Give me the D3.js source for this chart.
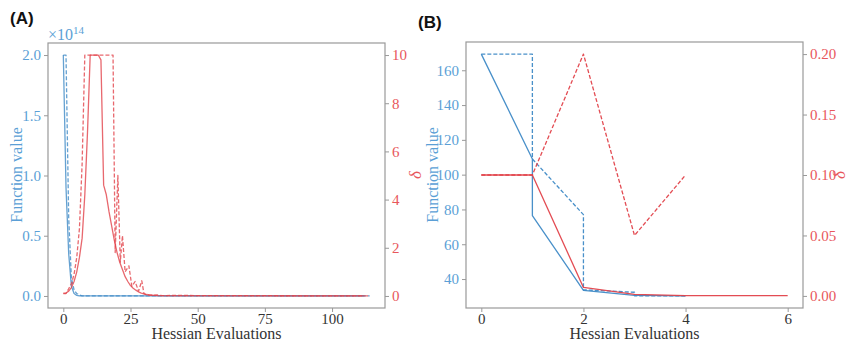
<!DOCTYPE html>
<html><head><meta charset="utf-8">
<script src="https://cdn.jsdelivr.net/npm/d3@7/dist/d3.min.js"></script>
<style>
body{margin:0;background:#fff;}
svg{display:block;}
</style></head>
<body><svg id="c" width="859" height="344"></svg>
<script>
// ---------- Panel A data (x = Hessian evaluations) ----------
const aBlueSolidX = [0,1,2,3,4,5,6,112];
const aBlueSolidY = [2.0,0.9,0.35,0.08,0.02,0.005,0,0];           // ×1e14
const aBlueDashX  = [0,1,2,3,4,5,6,7,114];
const aBlueDashY  = [2.0,2.0,0.65,0.15,0.05,0.02,0.008,0,0];     // ×1e14
const aRedSolidX  = [0,1,2,3,4,5,6,7,8,9,10,11,12,13,14,15,16,17,18,19,20,21,22,23,24,25,26,27,28,29,30,31,32,33,34,35,112];
const aRedSolidY  = [0.12,0.12,0.2,0.35,0.6,1.0,1.6,2.4,4.2,6.8,10,10,10,10,9.8,4.6,4.2,3.5,2.9,2.3,1.8,1.4,1.1,0.8,0.6,0.43,0.32,0.24,0.17,0.12,0.09,0.06,0.04,0.03,0.02,0.01,0];
const aRedDashX   = [0,1,2,3,4,5,6,7,8,9,10,11,12,13,14,15,16,17,18,18.5,19.3,20.3,21.2,22,23,24.4,25.5,26.7,28,29.2,30,31,33,35,37,40,114];
const aRedDashY   = [0.1,0.1,0.3,0.5,0.9,1.6,2.8,5.5,10,10,10,10,10,10,10,10,10,10,10,10,1.8,5.0,1.4,2.5,1.0,1.25,0.4,0.6,0.2,0.63,0.1,0.05,0.03,0.04,0.01,0.02,0];
const aXTicks = [0,25,50,75,100];
const aYTicks = [0,0.5,1.0,1.5,2.0];
const aDTicks = [0,2,4,6,8,10];

// ---------- Panel B data ----------
const bBlueSolidX = [0,1,1,2,3,4];
const bBlueSolidY = [169.3,109,76.5,33.5,30.6,30.3];
const bBlueDashX  = [0,1,1,2,2,3,3,4];
const bBlueDashY  = [169.3,169.3,109,77,33.8,32.4,30.4,30.3];
const bRedSolidX  = [0,1,2,3,4,5,6];
const bRedSolidY  = [0.1,0.1,0.007,0.0012,0.0003,0.0002,0.0002];
const bRedDashX   = [0,1,2,3,4];
const bRedDashY   = [0.1,0.1,0.2,0.05,0.1];
const bXTicks = [0,2,4,6];
const bYTicks = [40,60,80,100,120,140,160];
const bDTicks = [0,0.05,0.10,0.15,0.20];

const BLUE = "#3f8ac6", RED = "#e2424a";
const BLUE_T = "#5b9fd6", RED_T = "#e8575c";
const GRAY = "#999";
const SERIF = "'Liberation Serif', 'Times New Roman', serif";
const SANS = "'Liberation Sans', Arial, sans-serif";

const svg = d3.select("#c");

function pad(ext){ const r = ext[1]-ext[0]; return [ext[0]-0.05*r, ext[1]+0.05*r]; }

function panel(o){
  const g = svg.append("g");
  const x = d3.scaleLinear().domain(pad(o.xExt)).range([o.L, o.R]);
  const yl = d3.scaleLinear().domain(pad(o.ylExt)).range([o.B, o.T]);
  const yr = d3.scaleLinear().domain(pad(o.yrExt)).range([o.B, o.T]);

  const mk = (xs, ys, sx, sy) => d3.line().x((d,i)=>sx(xs[i])).y((d,i)=>sy(ys[i]))(xs);
  const draw = (xs, ys, sy, col, dash, op) => g.append("path").attr("d", mk(xs, ys, x, sy))
      .attr("fill","none").attr("stroke",col).attr("stroke-width",1.3)
      .attr("stroke-opacity",op).attr("stroke-dasharray",dash?"4,2":null)
      .attr("stroke-linejoin","round");
  o.left.forEach(s=>draw(s[0], s[1], yl, BLUE, s[2], o.op));
  o.right.forEach(s=>draw(s[0], s[1], yr, RED, s[2], o.op));

  g.append("rect").attr("x",o.L).attr("y",o.T).attr("width",o.R-o.L).attr("height",o.B-o.T)
    .attr("fill","none").attr("stroke",GRAY).attr("stroke-width",1.2);

  const ax = g.append("g").attr("transform",`translate(0,${o.B})`)
    .call(d3.axisBottom(x).tickValues(o.xTicks).tickSize(4).tickPadding(1).tickFormat(d3.format("d")));
  const ayl = g.append("g").attr("transform",`translate(${o.L},0)`)
    .call(d3.axisLeft(yl).tickValues(o.yTicks).tickSize(4).tickPadding(3).tickFormat(o.ylFmt));
  const ayr = g.append("g").attr("transform",`translate(${o.R},0)`)
    .call(d3.axisRight(yr).tickValues(o.dTicks).tickSize(4).tickPadding(3).tickFormat(o.yrFmt));
  [ax,ayl,ayr].forEach(a=>{
     a.attr("font-family",SERIF).attr("font-size",15);
     a.select(".domain").remove(); a.selectAll(".tick line").attr("stroke",GRAY);
     a.selectAll("text").style("font-family",SERIF).style("font-size","15px");});
  ax.selectAll("text").attr("fill","#333");
  ayl.selectAll("text").attr("fill",BLUE_T);
  ayr.selectAll("text").attr("fill",RED_T);

  g.append("text").attr("x",(o.L+o.R)/2).attr("y",339).attr("text-anchor","middle")
    .style("font-family",SERIF).style("font-size","16px").attr("fill","#333").text("Hessian Evaluations");
  g.append("text").attr("transform",`translate(${o.ylx},175) rotate(-90)`).attr("text-anchor","middle")
    .attr("dy","0.35em").attr("fill",BLUE_T).style("font-family",SERIF).style("font-size","16px").text("Function value");
  g.append("text").attr("transform",`translate(${o.yrx},175) rotate(-90)`).attr("text-anchor","middle")
    .attr("dy","0.35em").attr("fill",RED_T).style("font-family",SERIF).style("font-size","17px").style("font-style","italic").text("δ");
  g.append("text").attr("x",o.labX).attr("y",o.labY).style("font-family",SANS)
    .style("font-weight","bold").style("font-size","17px").attr("fill","#111").text(o.label);
  return {x,yl,yr,g};
}

const A = panel({
  L:48, R:385, T:43, B:308,
  xExt:[0,114], ylExt:[0,2.0], yrExt:[0,10],
  left:[[aBlueSolidX,aBlueSolidY,false],[aBlueDashX,aBlueDashY,true]],
  right:[[aRedSolidX,aRedSolidY,false],[aRedDashX,aRedDashY,true]],
  xTicks:aXTicks, yTicks:aYTicks, dTicks:aDTicks,
  ylFmt:d3.format(".1f"), yrFmt:d3.format("d"), op:0.8,
  ylx:16, yrx:415, label:"(A)", labX:10, labY:24
});
const aExp = A.g.append("text").attr("x",48).attr("y",40).attr("fill",BLUE_T)
  .style("font-family",SERIF).style("font-size","16px");
aExp.append("tspan").text("×10");
aExp.append("tspan").attr("dy",-6).style("font-size","11px").text("14");

panel({
  L:466, R:803, T:42, B:308,
  xExt:[0,6], ylExt:[30.3,169.3], yrExt:[0,0.2],
  left:[[bBlueSolidX,bBlueSolidY,false],[bBlueDashX,bBlueDashY,true]],
  right:[[bRedSolidX,bRedSolidY,false],[bRedDashX,bRedDashY,true]],
  xTicks:bXTicks, yTicks:bYTicks, dTicks:bDTicks,
  ylFmt:d3.format("d"), yrFmt:d3.format(".2f"), op:0.95,
  ylx:432, yrx:839, label:"(B)", labX:418, labY:28
});
</script></body></html>
